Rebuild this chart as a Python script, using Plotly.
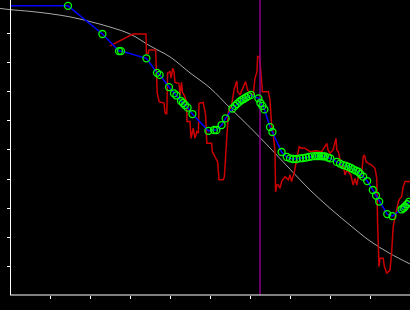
import plotly.graph_objects as go

# Smooth reference curve (gray)
fit_x = [-2.5, 0, 5, 10, 15, 20, 25, 30, 35, 40, 45, 50, 55, 60, 65, 70, 75, 80, 85, 90, 95, 100]
fit_y = [98.8, 98.4, 97.8, 97.0, 95.9, 94.3, 92.4, 90.0, 85.9, 82.1, 76.6, 71.4, 64.5, 57.8,
         50.7, 43.4, 36.2, 29.9, 24.1, 18.6, 14.3, 10.7]

# Raw signal (red)
raw_x = [25.0, 30.75, 34.0, 34.1, 34.6, 34.75, 36.4, 36.6, 36.8, 37.3, 38.5, 38.75, 39.2, 39.4,
         40.0, 40.25, 40.7, 41.0, 41.25, 41.75, 42.25, 42.5, 42.9, 43.1, 43.5, 44.0, 44.2, 44.25,
         45.0, 45.25, 45.8, 46.25, 46.7, 47.1, 47.25, 48.3, 48.9, 49.2, 50.4, 50.6, 51.25, 51.9,
         52.25, 53.3, 53.6, 53.9, 54.3, 54.6, 55.4, 56.1, 56.7, 56.9, 57.5, 58.3, 58.9, 59.4,
         60.25, 60.8, 61.25, 61.75, 61.9, 62.4, 62.75, 63.1, 63.6, 64.6, 65.0, 65.4, 65.8, 66.25,
         66.4, 66.7, 67.1, 67.5, 67.9, 68.75, 69.6, 70.0, 70.4, 71.1, 71.7, 72.0, 72.3, 72.9,
         73.75, 75.0, 76.25, 77.9, 79.2, 79.5, 80.0, 80.75, 81.25, 81.5, 81.7, 82.1, 82.5, 82.9,
         83.3, 83.75, 84.2, 84.6, 85.2, 85.8, 86.25, 86.7, 87.1, 87.9, 88.3, 88.6, 89.0, 89.6,
         90.4, 91.25, 91.7, 91.9, 92.1, 92.25, 92.5, 93.3, 93.6, 94.2, 95.0, 95.4, 95.8, 96.25,
         96.7, 97.1, 97.5, 97.9, 98.3, 98.75, 100.0]
raw_y = [85.9, 90.0, 90.0, 83.4, 83.4, 84.5, 84.5, 77.6, 69.7, 66.6, 66.2, 62.8, 62.4, 76.6,
         77.0, 74.8, 78.2, 77.0, 73.4, 73.1, 73.0, 69.0, 73.3, 70.0, 69.0, 67.2, 64.8, 59.8,
         59.8, 54.0, 57.5, 54.0, 56.3, 55.8, 66.1, 66.4, 62.1, 52.3, 52.3, 49.4, 47.7, 46.0,
         39.7, 39.7, 40.8, 48.3, 57.5, 63.2, 65.5, 71.3, 73.8, 70.1, 69.0, 71.3, 73.6, 70.7,
         69.2, 69.0, 74.7, 77.0, 82.2, 82.2, 75.9, 70.1, 70.1, 70.1, 67.2, 58.6, 55.8, 49.4,
         35.6, 37.9, 37.9, 36.8, 39.1, 40.8, 39.7, 41.4, 39.1, 42.5, 47.1, 50.0, 51.1, 50.6,
         50.6, 49.4, 49.7, 49.4, 52.3, 50.0, 48.9, 50.0, 53.4, 54.0, 50.0, 49.4, 46.6, 43.7,
         44.8, 41.4, 43.1, 42.5, 41.4, 37.9, 40.2, 37.9, 40.8, 41.4, 47.7, 48.3, 46.0, 45.4,
         44.8, 43.7, 40.2, 24.7, 12.1, 9.8, 12.7, 12.7, 9.8, 7.5, 8.6, 14.4, 23.6, 27.0,
         30.4, 32.2, 33.3, 33.9, 37.3, 39.1, 39.1]

# Detected points (green circles joined by blue line)
pts_x = [14.5, 23.1, 27.25, 27.75, 34.1, 36.75, 37.4, 39.75, 41.0, 41.6, 42.75, 43.25, 43.75,
         44.4, 45.6, 49.6, 51.0, 51.6, 52.9, 53.9, 55.6, 56.25, 56.75, 57.4, 57.9, 58.4, 59.0,
         59.6, 60.25, 62.1, 62.6, 63.1, 63.6, 65.0, 65.6, 67.9, 69.2, 70.0, 70.8, 71.6, 72.5,
         73.25, 74.0, 74.75, 75.5, 76.25, 76.75, 77.25, 77.75, 78.25, 78.75, 79.5, 80.1, 81.7,
         82.5, 83.3, 84.0, 84.6, 85.25, 85.8, 86.5, 87.1, 87.6, 88.3, 89.3, 90.7, 91.5, 92.3,
         94.3, 95.6, 97.9, 98.4, 98.75, 99.3, 99.75]
pts_y = [99.7, 90.0, 84.1, 84.1, 81.6, 76.6, 75.9, 71.7, 69.5, 68.8, 66.9, 66.2, 65.5,
         64.6, 62.4, 56.6, 56.9, 56.9, 58.6, 60.9, 64.3, 65.2, 65.9, 66.7, 67.2, 67.6, 68.1,
         68.6, 69.0, 67.8, 66.2, 65.2, 64.0, 57.9, 56.2, 49.3, 47.6, 47.1, 46.9, 46.9, 47.1,
         47.2, 47.4, 47.6, 47.8, 47.9, 47.9, 47.9, 47.9, 47.8, 47.8, 47.4, 47.1, 45.9,
         45.3, 44.8, 44.5, 44.2, 43.8, 43.3, 42.9, 42.5, 41.7, 40.8, 39.3, 36.2, 34.3, 32.2,
         27.9, 27.2, 29.5, 30.0, 30.5, 31.3, 32.1]
line_start_x = 0
line_start_y = 99.7

marker_x = 62.5

x_ticks = [10, 20, 30, 40, 50, 60, 70, 80, 90]
y_ticks = [10, 20, 30, 40, 50, 60, 70, 80, 90]
x_range = [-2.5, 100]
y_range = [0, 101.72]

fig = go.Figure()
fig.add_trace(go.Scatter(x=fit_x, y=fit_y, mode="lines", line=dict(color="#a8a8a8", width=1, shape="spline"),
                         hoverinfo="skip"))
fig.add_trace(go.Scatter(x=raw_x, y=raw_y, mode="lines", line=dict(color="#cc0000", width=1.5)))
fig.add_trace(go.Scatter(x=[marker_x, marker_x], y=y_range, mode="lines",
                         line=dict(color="#8b008b", width=1.5)))
fig.add_trace(go.Scatter(x=[line_start_x] + pts_x, y=[line_start_y] + pts_y, mode="lines",
                         line=dict(color="#0000ff", width=1.5)))
fig.add_trace(go.Scatter(x=pts_x, y=pts_y, mode="markers",
                         marker=dict(symbol="circle-open", size=7, color="#00ff00", line=dict(width=1.3))))

fig.add_shape(type="line", xref="x", yref="paper", x0=0, x1=x_range[1], y0=0, y1=0,
              line=dict(color="white", width=1))

fig.update_layout(
    width=410, height=310,
    margin=dict(l=0, r=0, t=0, b=15),
    paper_bgcolor="black", plot_bgcolor="black",
    showlegend=False,
    xaxis=dict(range=x_range, domain=[0, 1], showgrid=False, zeroline=False, showline=False,
               tickvals=x_ticks, ticks="outside", ticklen=3, tickwidth=1, tickcolor="white",
               showticklabels=False),
    yaxis=dict(range=y_range, anchor="free", position=10 / 410, showgrid=False, zeroline=False,
               showline=True, linecolor="white", linewidth=1,
               tickvals=y_ticks, ticks="outside", ticklen=3, tickwidth=1, tickcolor="white",
               showticklabels=False),
)

fig.write_html("out.html")
